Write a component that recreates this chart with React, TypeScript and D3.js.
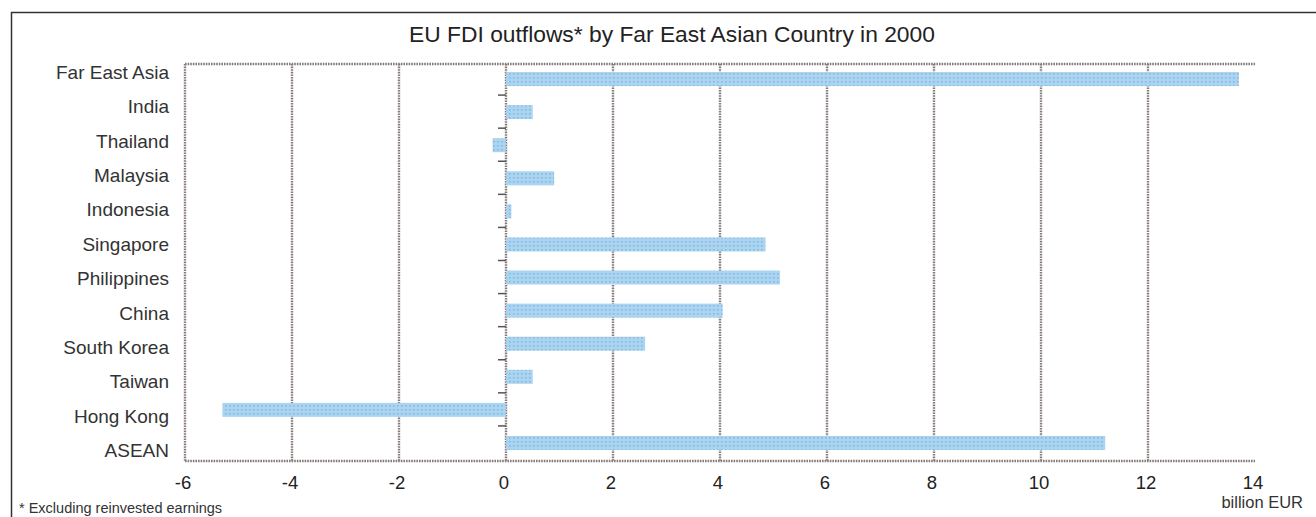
import React from "react";
import * as d3 from "d3";

const categories = [
  "Far East Asia",
  "India",
  "Thailand",
  "Malaysia",
  "Indonesia",
  "Singapore",
  "Philippines",
  "China",
  "South Korea",
  "Taiwan",
  "Hong Kong",
  "ASEAN",
];
const values = [13.7, 0.5, -0.25, 0.9, 0.1, 4.85, 5.12, 4.05, 2.6, 0.5, -5.3, 11.2];
const xTicks = [-6, -4, -2, 0, 2, 4, 6, 8, 10, 12, 14];
const gridTicks = [-4, -2, 0, 2, 4, 6, 8, 10, 12];

const W = 1316;
const H = 517;
const FONT = "'Liberation Sans', Arial, sans-serif";

export default function App() {
  const x = d3.scaleLinear().domain([-6, 14]).range([185, 1255]);
  const y = d3.scaleBand().domain(categories).range([64, 461]);
  const yLabel = d3.scalePoint().domain(categories).range([74, 452]);
  const gridColor = "#857a78";
  const barH = 14;
  const dash = "1.6,1";

  return (
    <svg
      width={W}
      height={H}
      style={{ position: "absolute", left: 0, top: 0, background: "#fff" }}
    >
      <defs>
        <pattern id="dots" width="4" height="4" patternUnits="userSpaceOnUse">
          <rect width="4" height="4" fill="#a9d5f0" />
          <rect x="1" y="1" width="1.6" height="1.6" fill="#8fb4e2" />
        </pattern>
        <filter id="soft" x="-5%" y="-20%" width="110%" height="140%">
          <feGaussianBlur stdDeviation="0.5" />
        </filter>
      </defs>
      {/* outer frame */}
      <path d={`M11.5,${H} V12.5 H${W}`} fill="none" stroke="#333" strokeWidth={1.5} />
      {/* title */}
      <text
        x={672}
        y={42}
        textAnchor="middle"
        fontFamily={FONT}
        fontSize={22.8}
        fill="#222"
      >
        EU FDI outflows* by Far East Asian Country in 2000
      </text>
      {/* gridlines */}
      {gridTicks.map((t) => (
        <line
          key={"g" + t}
          x1={x(t)}
          x2={x(t)}
          y1={64}
          y2={461}
          stroke={gridColor}
          strokeWidth={2.4}
          strokeDasharray={dash}
        />
      ))}
      {/* plot top and left/bottom axis */}
      <line x1={x(-6)} x2={x(14)} y1={64} y2={64} stroke={gridColor} strokeWidth={2.4} strokeDasharray={dash} />
      <line x1={x(-6)} x2={x(14)} y1={461} y2={461} stroke={gridColor} strokeWidth={2.4} strokeDasharray={dash} />
      <line x1={x(-6)} x2={x(-6)} y1={64} y2={461} stroke={gridColor} strokeWidth={2.4} strokeDasharray={dash} />
      {/* bars */}
      <g filter="url(#soft)">
        {categories.map((c, i) => {
          const v = values[i];
          const x0 = x(Math.min(0, v));
          const x1 = x(Math.max(0, v));
          const cy = (y(c) as number) + y.bandwidth() / 2 - 1.5;
          return (
            <rect
              key={c}
              x={x0}
              y={cy - barH / 2}
              width={x1 - x0}
              height={barH}
              fill="url(#dots)"
            />
          );
        })}
      </g>
      {/* category ticks on zero line */}
      {categories.slice(1).map((c) => (
        <line
          key={"t" + c}
          x1={x(0) - 8}
          x2={x(0)}
          y1={(y(c) as number) - 2}
          y2={(y(c) as number) - 2}
          stroke="#555"
          strokeWidth={1.5}
        />
      ))}
      {/* category labels */}
      {categories.map((c) => (
        <text
          key={"l" + c}
          x={169}
          y={yLabel(c) as number}
          textAnchor="end"
          dominantBaseline="middle"
          fontFamily={FONT}
          fontSize={19}
          fill="#333"
        >
          {c}
        </text>
      ))}
      {/* x tick labels */}
      {xTicks.map((t) => (
        <text
          key={"x" + t}
          x={x(t) - 2}
          y={489}
          textAnchor="middle"
          fontFamily={FONT}
          fontSize={18.5}
          fill="#222"
        >
          {t}
        </text>
      ))}
      <text x={1303} y={508} textAnchor="end" fontFamily={FONT} fontSize={16.5} fill="#333">
        billion EUR
      </text>
      <text x={19} y={513} fontFamily={FONT} fontSize={14.5} fill="#333">
        * Excluding reinvested earnings
      </text>
    </svg>
  );
}
